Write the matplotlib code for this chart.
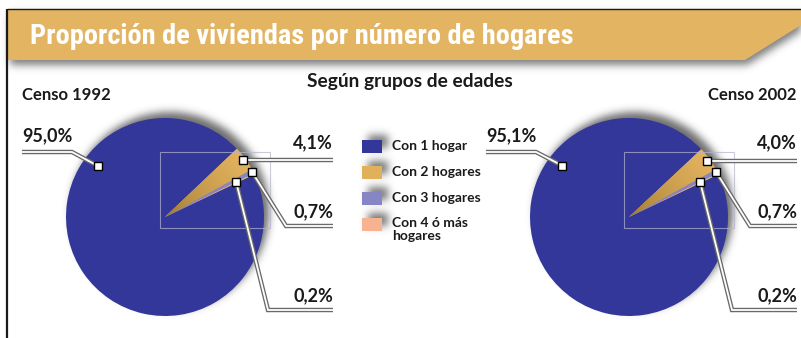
import numpy as np
import matplotlib
matplotlib.use("Agg")
import matplotlib.pyplot as plt
from matplotlib.patches import Rectangle, Polygon
from matplotlib.path import Path

W, H = 801, 338

# ---- data ----
title = "Proporción de viviendas por número de hogares"
subtitle = "Según grupos de edades"
categories = ["Con 1 hogar", "Con 2 hogares", "Con 3 hogares", "Con 4 ó más\nhogares"]
colors = ["#33379a", "#e1b05a", "#8686c4", "#f7b291"]
censos = ["Censo 1992", "Censo 2002"]
shares_1992 = [95.0, 4.1, 0.7, 0.2]
shares_2002 = [95.1, 4.0, 0.7, 0.2]

FONT = ["Lato", "DejaVu Sans"]
TITLE_FONT = ["Roboto Condensed", "IBM Plex Sans Condensed", "DejaVu Sans"]
INK = "#1a1a1a"


def Y(y):
    # layout below is measured from the top edge
    return H - y


fig = plt.figure(figsize=(W / 100, H / 100), dpi=100)
ax = fig.add_axes([0, 0, 1, 1])


def blur(a, sigma):
    k = np.arange(-3 * sigma, 3 * sigma + 1)
    g = np.exp(-0.5 * (k / sigma) ** 2)
    g /= g.sum()
    a = np.apply_along_axis(lambda r: np.convolve(r, g, mode="same"), 1, a)
    a = np.apply_along_axis(lambda c: np.convolve(c, g, mode="same"), 0, a)
    return a


# pixel grid (x right, y up) for the drop shadows
gx, gy = np.meshgrid(np.arange(W) + 0.5, np.arange(H) + 0.5)
pts = np.column_stack([gx.ravel(), gy.ravel()])

# banner shape
banner = [(8, Y(9)), (W, Y(9)), (W, Y(25)), (745, Y(60)), (8, Y(60))]

shadow = np.zeros((H, W))
bpath = Path([(x + 2, y - 5) for x, y in banner])
shadow = np.maximum(shadow, bpath.contains_points(pts).reshape(H, W) * 0.75)

pie_centers = [(165, Y(217)), (629, Y(217))]
R = 99
for cx, cy in pie_centers:
    d = np.hypot(gx - (cx + 5), gy - (cy + 6))
    shadow = np.maximum(shadow, (d < R) * 0.85)

leg_x, leg_y0, leg_dy = 362, 140, 26
for i in range(len(categories)):
    x0, y0 = leg_x + 6, Y(leg_y0 + i * leg_dy) + 5
    m = (gx > x0) & (gx < x0 + 20) & (gy < y0) & (gy > y0 - 13)
    shadow = np.maximum(shadow, m * 0.8)

shadow = blur(shadow, 4)
rgba = np.zeros((H, W, 4))
rgba[..., :3] = 0.33
rgba[..., 3] = np.clip(shadow, 0, 1)
ax.imshow(rgba, extent=(0, W, 0, H), origin="lower", zorder=0, interpolation="bilinear")

# banner and frame
ax.add_patch(Polygon(banner, closed=True, facecolor="#e3b563", edgecolor="none", zorder=2))
ax.plot([7, 7], [0, Y(9)], color=INK, lw=1.6, zorder=3, solid_capstyle="butt")
ax.plot([7, W], [Y(9), Y(9)], color=INK, lw=1.0, zorder=3, solid_capstyle="butt")
ax.text(30, Y(36), title, color="white", fontsize=20.4, fontweight="bold",
        family=TITLE_FONT, ha="left", va="center", zorder=4)

ax.text(410, Y(81), subtitle, fontsize=13.8, fontweight="bold", family=FONT,
        color=INK, ha="center", va="center", zorder=4)


def leader(points, zorder=6):
    xs = [p[0] for p in points]
    ys = [p[1] for p in points]
    ax.plot(xs, ys, color="#6a6a6a", lw=3.2, zorder=zorder, solid_capstyle="butt",
            solid_joinstyle="miter")
    ax.plot(xs, ys, color="white", lw=1.3, zorder=zorder + 0.1, solid_capstyle="butt",
            solid_joinstyle="miter")
    ax.plot(xs[-1], ys[-1], marker="s", ms=5.5, mfc="white", mec="black", mew=1.0,
            zorder=zorder + 0.2)


def anchor(w, frac, rfrac):
    a = np.radians(w.theta1 + frac * (w.theta2 - w.theta1))
    cx, cy = w.center
    return cx + w.r * rfrac * np.cos(a), cy + w.r * rfrac * np.sin(a)


def draw_census(shares, name, cx, cy, right_x, left_x, align):
    wedges, _ = ax.pie(shares, colors=colors, startangle=25.5, counterclock=False,
                       radius=R, center=(cx, cy), wedgeprops=dict(linewidth=0))
    for w in wedges:
        w.set_zorder(3)

    # shaded fill for the second slice
    gold = wedges[1]
    t = np.linspace(0, 1, 200)
    rr = np.hypot(*np.meshgrid(t, t))
    c0 = np.array([0.55, 0.42, 0.16])
    c1 = np.array([0.89, 0.70, 0.37])
    f = np.clip(rr, 0, 1)[..., None]
    img = c0 + (c1 - c0) * np.sqrt(f)
    im = ax.imshow(img, extent=(cx, cx + R, cy, cy + R), origin="lower", zorder=3.5)
    im.set_clip_path(gold)

    # faint plot-area frame
    ax.add_patch(Rectangle((cx - 5, cy - 11), 110, 76, fill=False,
                           edgecolor="#b4b4cc", lw=0.8, alpha=0.7, zorder=4))

    ax.text(left_x, Y(95), name, fontsize=12, fontweight="bold", family=FONT,
            color=INK, ha=align, va="center", zorder=5)

    labels = [f"{v:.1f}".replace(".", ",") + "%" for v in shares]
    lab = dict(fontsize=13, fontweight="bold", family=FONT, color=INK,
               va="center", zorder=5)

    # largest slice: label on the upper left
    p = anchor(wedges[0], 0.29, 0.85)
    lx = cx - 143
    leader([(lx, Y(152)), (lx + 50, Y(152)), p])
    ax.text(lx, Y(136), labels[0], ha="left", **lab)

    # small slices: labels on the right
    p1 = anchor(wedges[1], 0.5, 0.97)
    leader([(right_x, p1[1]), p1])
    ax.text(right_x, Y(143), labels[1], ha="right", **lab)

    p2 = anchor(wedges[2], 0.5, 0.99)
    leader([(right_x, Y(226)), (cx + 121, Y(226)), p2])
    ax.text(right_x, Y(212), labels[2], ha="right", **lab)

    p3 = anchor(wedges[3], 0.5, 0.8)
    leader([(right_x, Y(310)), (cx + 103, Y(310)), p3])
    ax.text(right_x, Y(296), labels[3], ha="right", **lab)


draw_census(shares_1992, censos[0], *pie_centers[0], right_x=333, left_x=22, align="left")
draw_census(shares_2002, censos[1], *pie_centers[1], right_x=797, left_x=797, align="right")

# legend
for i, (lab, col) in enumerate(zip(categories, colors)):
    top = leg_y0 + i * leg_dy
    ax.add_patch(Rectangle((leg_x, Y(top + 13)), 20, 13, facecolor=col, edgecolor="none",
                           zorder=5))
    if "\n" in lab:
        ax.text(392, Y(top - 1), lab, fontsize=10, fontweight="bold", family=FONT,
                color=INK, ha="left", va="top", linespacing=1.15, zorder=5)
    else:
        ax.text(392, Y(top + 6.5), lab, fontsize=10, fontweight="bold", family=FONT,
                color=INK, ha="left", va="center", zorder=5)

ax.set_xlim(0, W)
ax.set_ylim(0, H)
ax.set_aspect("equal")
ax.axis("off")
fig.savefig("out.png", dpi=100)
